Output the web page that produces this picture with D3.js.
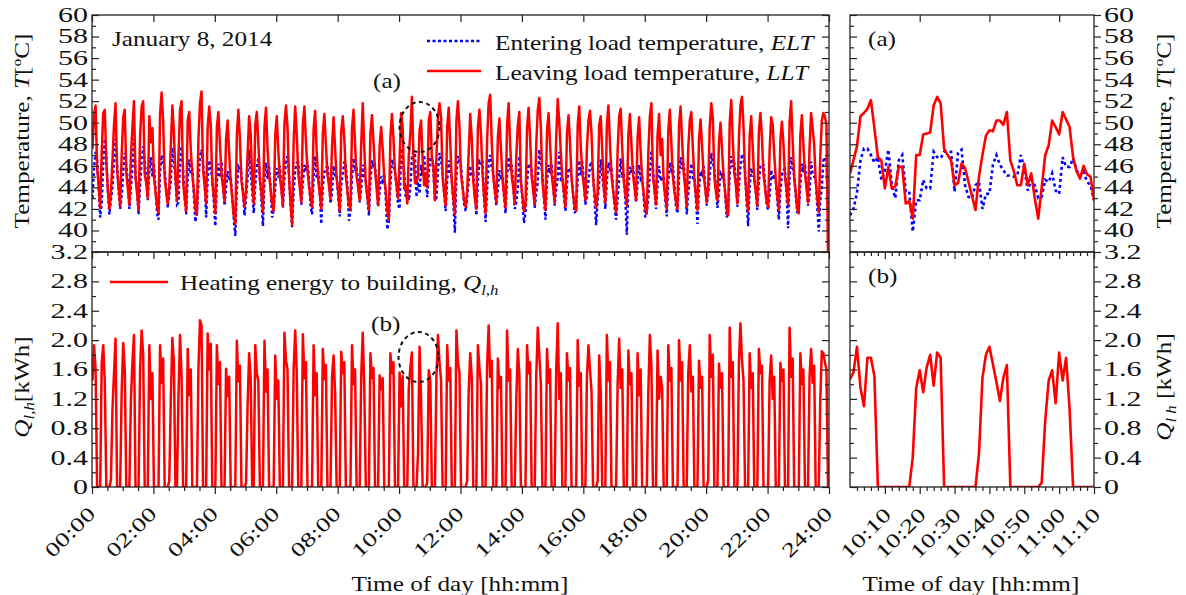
<!DOCTYPE html>
<html>
<head>
<meta charset="utf-8">
<script src="https://cdn.jsdelivr.net/npm/d3@7"></script>
<style>
  body { margin: 0; background: #fff; }
  svg { display: block; }
  text { font-family: "Liberation Serif", "Times New Roman", serif; fill: #111; }
</style>
</head>
<body>
<svg id="chart" width="1186" height="595"></svg>
<script>
// ---- Full day record: 3-minute samples, first at 00:01 ----
const dayFirstMinute = 1;
const daySampleStep = 3;

// Heating energy to building, Q_l,h [kWh]
const dayQ = [
  1.45,1.93,1.60,0,0,0, 1.70,1.93,1.42,0,0,0, 0.10,1.05,1.55,2.02,0,0,0, 1.30,1.96,1.60,0,0,0,
  1.18,1.70,2.07,0,0,0, 1.62,2.13,1.80,0,0,0, 1.93,1.20,1.55,0,0,0,0, 1.93,1.42,1.75,0,0,0,
  0.08,1.20,2.03,1.70,0,0, 1.25,2.07,1.50,0,0,0, 1.88,1.25,1.60,0,0,0,0, 1.62,2.27,2.20,0,0,0,
  2.09,1.60,1.95,0,0,0, 1.93,1.40,1.70,0,0,0, 1.61,1.24,1.50,0,0,0,0, 1.99,1.44,1.65,0,0,0,
  0.05,1.10,1.82,1.50,0,0, 1.93,1.55,1.45,0,0,0, 1.99,1.30,1.60,0,0,0,0, 1.79,1.20,1.45,0,0,0,
  2.10,1.72,1.60,0,0,0, 1.60,2.13,1.58,0,0,0, 2.08,1.48,1.70,0,0,0,0, 1.93,1.25,1.55,0,0,0,
  1.88,1.47,1.66,0,0,0, 1.50,1.79,1.28,0,0,0, 1.84,1.55,1.70,0,0,0,0, 1.93,1.40,1.60,0,0,0,
  1.50,2.10,1.35,0,0,0, 1.82,1.48,1.62,0,0,0, 1.52,1.33,1.48,0,0,0,0, 1.82,1.55,1.70,0,0,0,
  1.56,1.10,1.51,0,0,0, 1.35,1.63,1.83,0,0,0, 0.45,1.91,1.17,0,0,0, 0.06,1.59,1.45,0,0,0,
  1.50,2.07,1.70,1.45,0,0,0, 1.93,1.45,1.62,0,0,0, 2.13,1.70,1.55,0,0,0,0, 0.08,1.30,1.82,1.50,0,0,0,
  1.93,1.62,1.40,0,0,0, 1.65,2.20,1.50,1.72,0,0,0, 1.75,1.35,1.50,0,0,0, 2.13,1.45,1.60,0,0,0,
  1.20,1.88,1.52,0,0,0,0, 1.93,1.55,1.70,0,0,0, 1.50,2.17,1.80,1.40,0,0,0, 1.88,1.42,1.60,0,0,0,
  1.60,2.23,1.20,1.55,0,0,0, 1.82,1.45,1.62,0,0,0,0, 2.00,1.38,1.55,0,0,0, 1.50,1.93,1.60,1.30,0,0,0,
  0.08,1.79,1.30,0,0,0, 2.07,1.45,1.70,0,0,0,0, 1.40,2.02,1.35,1.60,0,0,0, 1.86,1.40,1.55,0,0,0,
  1.82,1.25,1.60,0,0,0,0, 1.30,2.07,1.65,0,0,0, 1.86,1.20,1.50,1.35,0,0,0, 1.93,1.45,1.62,0,0,0,0,
  2.00,1.45,1.70,0,0,0, 1.55,1.93,1.30,1.50,0,0,0, 1.72,1.35,1.50,0,0,0, 0.10,2.07,1.50,1.80,0,0,0,
  1.68,1.35,1.55,0,0,0,0, 2.17,1.50,1.70,0,0,0, 1.70,2.23,1.72,1.45,0,0,0, 1.82,1.35,1.55,0,0,0,
  1.88,1.55,1.65,0,0,0,0, 1.45,1.79,1.20,1.50,0,0,0, 1.69,1.45,1.60,0,0,0, 2.17,1.50,1.75,0,0,0,0,
  1.82,1.40,1.60,0,0,0, 1.50,1.88,1.42,1.65,0,0,0, 1.20,1.85,1.82,1.70,1.60,0
];

// Leaving load temperature, LLT [°C]
const dayLLT = [
  47.6,50.8,51.6,45.8,44.2,42.1, 47.2,50.9,51.2,46.3,43.8,42.0, 43.5,46.5,49.8,51.8,45.6,44.0,42.3, 47.0,50.5,51.2,45.4,43.9,42.4,
  46.8,49.6,52.0,44.9,43.5,41.9, 48.8,51.5,52.0,45.2,44.4,43.0, 50.6,48.2,49.5,45.0,43.6,42.3,41.6, 50.8,52.8,50.2,44.9,43.6,42.5,
  44.0,47.8,51.6,49.2,45.0,42.8, 47.0,51.2,52.0,44.5,43.0,41.8, 50.2,51.0,47.5,45.2,43.8,42.0,41.5, 48.5,51.8,52.9,45.6,44.2,42.5,
  49.5,51.5,49.8,44.5,43.2,41.6, 49.6,51.0,48.0,45.2,44.0,42.7, 48.5,50.2,47.2,44.6,43.0,41.4,40.6, 48.8,51.2,48.5,44.6,43.5,42.2,
  43.8,47.0,50.6,49.0,44.5,42.5, 49.8,51.0,48.2,44.7,43.5,41.7, 49.6,51.4,47.6,45.2,43.8,42.4,41.8, 48.8,50.6,47.4,45.0,43.8,42.3,
  49.9,51.6,49.5,44.8,42.5,40.5, 48.2,51.5,48.9,45.3,44.0,42.6, 49.9,51.5,48.2,45.6,44.1,43.0,42.2, 49.4,51.1,47.3,44.7,43.4,42.0,
  49.0,50.8,48.0,45.2,44.2,42.9, 47.8,50.5,47.6,44.8,43.6,41.8, 49.2,50.6,48.5,45.0,43.6,42.4,41.9, 49.5,51.2,47.9,45.0,44.0,42.8,
  48.0,51.8,47.6,44.3,43.2,41.9, 49.0,50.7,48.2,45.6,44.0,42.4, 47.8,49.6,47.5,45.0,43.6,41.8,41.0, 48.6,50.8,48.6,45.4,44.2,43.0,
  46.5,50.9,49.5,43.9,44.1,42.5, 47.0,49.0,52.4,47.0,44.4,44.5, 45.0,49.3,50.2,46.5,44.2,45.3, 44.0,50.2,51.0,46.8,46.0,42.8,
  46.8,50.6,51.8,50.5,45.0,43.5,42.3, 49.6,51.4,48.1,44.5,43.0,41.5, 50.2,52.0,49.6,45.2,44.0,42.8,42.2, 43.6,47.2,50.8,48.5,44.6,43.0,42.0,
  49.5,51.2,49.0,45.3,43.2,41.6, 48.4,51.8,52.6,48.3,45.0,43.8,42.6, 48.6,50.4,47.6,44.8,43.4,42.1, 49.8,51.8,48.0,45.1,44.0,42.5,
  46.8,49.8,51.0,44.5,43.2,41.8,42.3, 49.4,51.4,48.6,45.0,43.8,42.4, 48.0,51.2,52.3,49.5,44.6,43.2,41.9, 49.2,50.9,48.0,45.2,44.0,42.6,
  48.6,52.2,50.0,47.2,44.8,43.6,42.2, 49.0,50.7,48.2,44.8,43.4,42.2,41.8, 49.8,51.5,47.8,45.3,44.2,42.8, 47.6,50.2,51.1,49.0,44.9,43.4,42.1,
  43.6,49.8,50.6,47.4,44.0,42.6, 49.8,51.6,48.1,45.1,43.8,42.6,41.7, 47.4,50.6,51.3,47.6,44.6,43.4,42.3, 48.9,50.8,47.9,45.2,44.0,42.8,
  48.6,50.5,47.3,44.7,43.4,42.0,41.6, 47.2,50.6,51.8,45.1,43.8,42.4, 48.8,50.8,47.0,48.5,44.4,43.2,42.0, 49.2,51.2,48.1,45.0,43.6,42.7,42.0,
  49.8,51.5,48.3,45.4,44.0,42.2, 47.6,50.2,51.0,47.6,44.7,43.2,41.9, 48.4,50.3,47.8,45.2,44.0,42.6, 44.1,49.6,51.8,50.4,45.0,43.6,42.8,
  48.2,50.0,47.6,44.9,43.6,42.0,41.4, 50.0,52.1,48.4,45.3,44.2,42.5, 48.6,51.6,52.4,49.6,45.0,43.2,41.8, 48.8,50.6,47.7,44.6,43.6,42.3,
  49.2,50.9,48.6,45.2,44.0,42.7,42.2, 47.4,50.5,49.8,47.1,44.7,43.2,41.9, 48.4,50.1,48.0,45.0,43.8,42.4, 50.0,52.0,48.3,44.8,43.6,42.0,41.6,
  48.8,50.7,47.9,45.3,44.0,42.6, 47.6,50.9,49.5,48.0,44.6,43.0,41.7, 46.9,50.2,50.9,50.6,49.8,38.0
];

// Entering load temperature, ELT [°C]
const dayELT = [
  43.0,45.8,47.3,46.5,44.0,41.2, 42.5,46.2,48.5,46.8,43.5,41.5, 42.8,44.0,46.5,48.5,46.2,43.6,42.0, 43.2,45.5,47.2,46.1,44.6,42.0,
  44.0,45.8,48.5,45.2,43.8,41.5, 44.2,46.5,47.8,46.5,44.9,42.8, 45.6,46.8,45.0,46.2,44.0,41.6,41.0, 45.4,47.0,46.2,45.6,43.8,42.1,
  43.4,44.6,47.7,46.5,44.8,42.4, 42.6,46.5,47.8,45.8,43.2,41.5, 44.8,46.6,45.2,45.8,43.2,40.8,41.6, 44.5,46.9,47.5,46.3,44.8,41.2,
  44.8,46.5,45.8,44.8,42.6,40.4, 44.5,46.2,44.9,46.4,44.2,42.3, 44.0,45.5,44.6,45.0,43.2,41.0,39.5, 43.8,45.9,45.6,45.3,43.5,41.4,
  43.0,44.8,47.5,45.4,43.6,41.6, 44.2,46.0,46.7,45.1,42.8,40.4, 44.6,46.3,44.8,46.0,44.0,41.2,42.0, 43.9,45.8,44.9,46.0,44.1,42.1,
  44.8,46.4,46.9,45.2,42.4,40.3, 43.6,45.6,46.3,46.3,44.6,42.4, 44.4,46.1,45.5,46.4,44.8,42.3,41.5, 44.9,46.9,44.8,45.5,43.5,40.6,
  44.0,45.4,45.7,46.1,44.6,42.5, 43.5,46.0,45.0,45.1,43.2,41.3, 44.2,45.2,46.4,46.0,44.2,40.9,41.8, 44.8,46.7,45.5,45.9,44.5,42.6,
  43.9,46.1,45.0,44.6,43.0,41.4, 44.6,46.5,45.8,46.0,44.3,42.2, 43.6,45.0,44.6,45.3,43.0,40.1,40.8, 44.2,46.6,46.0,45.5,44.0,42.4,
  42.0,47.6,46.3,45.5,43.0,43.6, 42.8,43.9,46.8,47.3,47.2,43.1, 44.5,43.4,46.1,45.1,47.0,44.7, 43.1,45.3,46.8,46.7,45.5,42.8,
  43.0,45.5,47.2,46.5,45.3,43.5,41.8, 44.6,46.5,45.4,44.8,42.5,39.8, 45.0,46.9,46.4,46.0,44.2,42.5,41.8, 43.0,44.6,46.0,45.0,45.2,43.4,41.4,
  44.5,46.4,46.2,46.3,43.0,40.8, 43.8,46.2,47.0,45.8,45.4,43.6,42.3, 43.8,45.6,44.9,45.0,43.2,41.6, 45.0,46.8,45.6,46.1,44.3,42.0,
  42.6,43.9,46.9,44.7,42.8,40.7,41.6, 44.4,46.2,46.0,45.6,43.9,42.1, 43.5,44.5,47.5,46.2,45.3,43.0,41.0, 44.6,46.1,45.3,46.2,44.4,42.3,
  43.8,44.9,47.3,44.8,45.0,43.2,41.8, 44.2,45.8,45.5,45.0,43.4,41.6,42.0, 44.8,46.5,45.1,46.4,44.6,42.4, 43.2,44.6,46.0,46.4,45.2,42.8,40.5,
  42.9,44.5,46.6,45.0,43.8,42.0, 44.6,46.3,45.7,45.9,44.0,42.2,41.0, 43.0,44.8,46.7,44.9,45.3,43.0,39.6, 44.0,45.9,45.3,46.0,44.5,42.6,
  44.4,46.1,44.8,45.1,43.0,41.2,41.8, 43.0,45.4,47.4,45.8,44.0,42.0, 44.2,46.0,44.6,44.9,45.0,43.0,41.3, 44.6,46.3,45.6,46.0,44.2,42.2,41.6,
  45.0,46.8,45.7,46.2,44.4,41.5, 43.4,45.0,46.2,44.9,45.0,42.8,40.6, 43.8,45.5,45.2,46.0,44.3,42.3, 43.5,45.0,47.2,46.3,45.6,44.0,42.1,
  43.6,45.3,45.0,45.4,43.5,41.2,41.8, 45.2,46.9,45.9,46.3,44.6,42.2, 44.0,46.0,47.1,46.6,45.5,42.6,40.4, 44.0,45.8,45.1,45.0,43.6,41.9,
  44.5,46.0,46.2,46.1,44.4,42.5,41.9, 43.2,45.6,44.7,45.2,44.6,42.8,41.0, 43.6,45.2,45.6,45.7,43.6,40.2, 45.0,46.8,45.8,45.1,43.2,41.6,42.0,
  44.2,46.2,45.4,46.2,44.5,42.3, 43.4,46.4,45.3,45.0,44.8,42.2,39.9, 42.8,44.0,46.5,46.8,46.4,42.0
];

// ---- Detail window 10:00 - 11:10, 1-minute samples ----
const zoomStart = 600; // minutes after midnight
const zoomLLT = [
  45.3,46.5,47.8,50.6,50.9,51.3,52.1,49.5,46.8,46.5,
  43.9,45.9,43.9,44.1,45.9,45.9,42.5,42.7,41.1,47.0,
  47.0,48.9,49.0,49.1,51.6,52.4,51.8,47.6,47.0,46.5,
  44.2,44.4,46.2,45.8,44.5,43.2,41.9,45.0,47.0,48.8,
  49.3,49.2,50.2,50.2,49.8,51.0,46.5,45.5,44.2,44.2,
  46.2,44.2,45.3,43.0,41.1,44.0,47.0,47.9,50.2,49.6,
  48.9,51.0,50.3,49.6,46.8,45.5,44.8,46.0,45.2,45.0,
  42.8
];
const zoomELT = [
  41.4,42.0,43.5,46.5,47.6,47.6,47.0,46.3,46.8,44.7,
  45.5,47.5,44.2,43.0,46.5,47.0,43.6,43.6,39.9,42.8,
  42.8,44.7,43.9,43.9,47.3,46.8,46.7,47.3,47.3,47.3,
  43.6,47.2,47.5,44.2,43.1,43.0,44.2,44.5,42.0,43.4,
  43.4,46.1,47.0,46.1,45.6,45.1,45.1,45.0,45.1,47.0,
  45.8,43.7,44.7,44.2,43.0,43.1,44.7,44.5,45.3,43.7,
  43.4,46.8,45.9,45.9,46.7,45.6,45.1,45.5,44.5,44.2,
  42.8
];
const zoomQ = [
  1.47,1.56,1.91,1.35,1.10,1.76,1.76,1.51,0,0,
  0,0,0,0,0,0,0,0,0.40,1.35,
  1.59,1.29,1.63,1.80,1.38,1.83,1.76,0,0,0,
  0,0,0,0,0,0,0,0.45,1.49,1.80,
  1.91,1.67,1.43,1.17,1.49,1.66,0,0,0,0,
  0,0,0,0,0,0.06,0.90,1.45,1.59,1.14,
  1.83,1.45,1.76,1.06,0,0,0,0,0,0,
  0
];

// ---- Axis ticks and labels ----
const dayTickMinutes = [0,120,240,360,480,600,720,840,960,1080,1200,1320,1440];
const dayTickLabels = ["00:00","02:00","04:00","06:00","08:00","10:00","12:00","14:00","16:00","18:00","20:00","22:00","24:00"];
const zoomTickMinutes = [610,620,630,640,650,660,670];
const zoomTickLabels = ["10:10","10:20","10:30","10:40","10:50","11:00","11:10"];
const tempTicks = [40,42,44,46,48,50,52,54,56,58,60];
const qTicks = [0,0.4,0.8,1.2,1.6,2.0,2.4,2.8,3.2];
const qTickLabels = ["0","0.4","0.8","1.2","1.6","2.0","2.4","2.8","3.2"];

if (dayQ.length !== dayLLT.length || dayQ.length !== dayELT.length)
  throw new Error(`day series lengths differ: Q ${dayQ.length}, LLT ${dayLLT.length}, ELT ${dayELT.length}`);
if (zoomQ.length !== zoomLLT.length || zoomQ.length !== zoomELT.length)
  throw new Error("detail series lengths differ");

// ---- Layout ----
const svg = d3.select("#chart");
const PL = { x0: 92, x1: 829 };   // full-day panels
const PR = { x0: 850, x1: 1094 };  // detail panels
const PT = { y0: 15, y1: 252 };    // temperature row
const PB = { y0: 252, y1: 487 };   // energy row
const INK = "#222";
const RED = "#ff0000";
const BLUE = "#0000ff";

const xDay = d3.scaleLinear().domain([0, 1440]).range([PL.x0, PL.x1]);
const xZoom = d3.scaleLinear().domain([600, 670]).range([PR.x0, PR.x1]);
const yT = d3.scaleLinear().domain([38, 60]).range([PT.y1, PT.y0]);
const yQ = d3.scaleLinear().domain([0, 3.2]).range([PB.y1, PB.y0]);

const dayT = dayQ.map((_, i) => dayFirstMinute + i * daySampleStep);
const zoomT = zoomQ.map((_, i) => zoomStart + i);

// stretch glyphs horizontally so lettering has the wide, loose look of the figure
function widen(sel, k) {
  sel.each(function () {
    const w = this.getComputedTextLength();
    if (w > 0) d3.select(this).attr("textLength", w * k).attr("lengthAdjust", "spacingAndGlyphs");
  });
}

// clip regions
const defs = svg.append("defs");
function clip(id, x0, x1, y0, y1) {
  defs.append("clipPath").attr("id", id).append("rect")
    .attr("x", x0).attr("y", y0).attr("width", x1 - x0).attr("height", y1 - y0);
  return `url(#${id})`;
}
const cLT = clip("cLT", PL.x0, PL.x1, PT.y0, PT.y1);
const cLB = clip("cLB", PL.x0, PL.x1, PB.y0, PB.y1);
const cRT = clip("cRT", PR.x0, PR.x1, PT.y0, PT.y1);
const cRB = clip("cRB", PR.x0, PR.x1, PB.y0, PB.y1);

function series(xs, ys, xScale, yScale) {
  return d3.line().x((d, i) => xScale(xs[i])).y(d => yScale(d))(ys);
}

// ---- Lines ----
svg.append("path").attr("clip-path", cLT).attr("d", series(dayT, dayELT, xDay, yT))
  .attr("fill", "none").attr("stroke", BLUE).attr("stroke-width", 2.4).attr("stroke-dasharray", "3,2.5");
svg.append("path").attr("clip-path", cLT).attr("d", series(dayT, dayLLT, xDay, yT))
  .attr("fill", "none").attr("stroke", RED).attr("stroke-width", 2.5).attr("stroke-linejoin", "round");
svg.append("path").attr("clip-path", cLB).attr("d", series(dayT, dayQ, xDay, yQ))
  .attr("fill", "none").attr("stroke", RED).attr("stroke-width", 2.5).attr("stroke-linejoin", "round");

svg.append("path").attr("clip-path", cRT).attr("d", series(zoomT, zoomELT, xZoom, yT))
  .attr("fill", "none").attr("stroke", BLUE).attr("stroke-width", 2.6).attr("stroke-dasharray", "3,3");
svg.append("path").attr("clip-path", cRT).attr("d", series(zoomT, zoomLLT, xZoom, yT))
  .attr("fill", "none").attr("stroke", RED).attr("stroke-width", 2.6).attr("stroke-linejoin", "round");
svg.append("path").attr("clip-path", cRB).attr("d", series(zoomT, zoomQ, xZoom, yQ))
  .attr("fill", "none").attr("stroke", RED).attr("stroke-width", 2.6).attr("stroke-linejoin", "round");

// ---- Frames ----
[[PL, PT], [PL, PB], [PR, PT], [PR, PB]].forEach(([px, py]) => {
  svg.append("rect").attr("x", px.x0).attr("y", py.y0)
    .attr("width", px.x1 - px.x0).attr("height", py.y1 - py.y0)
    .attr("fill", "none").attr("stroke", INK).attr("stroke-width", 1.3);
});

// ---- Axes ----
function axis(gen, tx, ty) {
  const g = svg.append("g").attr("transform", `translate(${tx},${ty})`).call(gen);
  g.select(".domain").remove();
  g.selectAll("line").attr("stroke", INK).attr("stroke-width", 1.2);
  g.attr("font-size", 20).attr("font-family", null);
  return g;
}
const none = () => "";
const tempMinor = d3.range(39, 60, 2);
const qMinor = [0.2,0.6,1.0,1.4,1.8,2.2,2.6,3.0];
const dayMinor = d3.range(0, 1441, 30).filter(m => m % 120 !== 0);
const zoomMinor = d3.range(602, 670, 2).filter(m => m % 10 !== 0);

// left panels, y axes
const gTL = axis(d3.axisLeft(yT).tickValues(tempTicks).tickSize(-7).tickPadding(4).tickFormat(d3.format("d")), PL.x0, 0);
axis(d3.axisLeft(yT).tickValues(tempMinor).tickSize(-4).tickFormat(none), PL.x0, 0);
axis(d3.axisRight(yT).tickValues(tempTicks).tickSize(-7).tickFormat(none), PL.x1, 0);
axis(d3.axisRight(yT).tickValues(tempMinor).tickSize(-4).tickFormat(none), PL.x1, 0);
const gBL = axis(d3.axisLeft(yQ).tickValues(qTicks).tickSize(-7).tickPadding(4).tickFormat((d, i) => qTickLabels[i]), PL.x0, 0);
axis(d3.axisLeft(yQ).tickValues(qMinor).tickSize(-4).tickFormat(none), PL.x0, 0);
axis(d3.axisRight(yQ).tickValues(qTicks).tickSize(-7).tickFormat(none), PL.x1, 0);
axis(d3.axisRight(yQ).tickValues(qMinor).tickSize(-4).tickFormat(none), PL.x1, 0);

// left panels, x axes
axis(d3.axisTop(xDay).tickValues(dayTickMinutes).tickSize(-7).tickFormat(none), 0, PT.y0);
axis(d3.axisBottom(xDay).tickValues(dayTickMinutes).tickSize(7).tickFormat(none), 0, PB.y0);
axis(d3.axisBottom(xDay).tickValues(dayMinor).tickSize(4).tickFormat(none), 0, PB.y0);
const gDayX = axis(d3.axisBottom(xDay).tickValues(dayTickMinutes).tickSize(7).tickFormat((d, i) => dayTickLabels[i]), 0, PB.y1);
axis(d3.axisBottom(xDay).tickValues(dayMinor).tickSize(4).tickFormat(none), 0, PB.y1);

// detail panels, y axes
axis(d3.axisLeft(yT).tickValues(tempTicks).tickSize(-7).tickFormat(none), PR.x0, 0);
axis(d3.axisLeft(yT).tickValues(tempMinor).tickSize(-4).tickFormat(none), PR.x0, 0);
const gTR = axis(d3.axisRight(yT).tickValues(tempTicks).tickSize(7).tickPadding(3).tickFormat(d3.format("d")), PR.x1, 0);
axis(d3.axisRight(yT).tickValues(tempMinor).tickSize(4).tickFormat(none), PR.x1, 0);
axis(d3.axisLeft(yQ).tickValues(qTicks).tickSize(-7).tickFormat(none), PR.x0, 0);
axis(d3.axisLeft(yQ).tickValues(qMinor).tickSize(-4).tickFormat(none), PR.x0, 0);
const gBR = axis(d3.axisRight(yQ).tickValues(qTicks).tickSize(7).tickPadding(3).tickFormat((d, i) => qTickLabels[i]), PR.x1, 0);
axis(d3.axisRight(yQ).tickValues(qMinor).tickSize(4).tickFormat(none), PR.x1, 0);

// detail panels, x axes
axis(d3.axisTop(xZoom).tickValues([620, 640, 660]).tickSize(-7).tickFormat(none), 0, PT.y0);
axis(d3.axisBottom(xZoom).tickValues(zoomTickMinutes).tickSize(7).tickFormat(none), 0, PB.y0);
axis(d3.axisBottom(xZoom).tickValues(zoomMinor).tickSize(4).tickFormat(none), 0, PB.y0);
const gZoomX = axis(d3.axisBottom(xZoom).tickValues(zoomTickMinutes).tickSize(7).tickFormat((d, i) => zoomTickLabels[i]), 0, PB.y1);
axis(d3.axisBottom(xZoom).tickValues(zoomMinor).tickSize(4).tickFormat(none), 0, PB.y1);

// tick label styling
[gTL, gBL, gTR, gBR].forEach(g => { g.selectAll("text").attr("fill", "#111"); widen(g.selectAll("text"), 1.5); });
gDayX.selectAll("text").attr("x", 0).attr("y", 0).attr("dy", 0).attr("text-anchor", "end")
  .attr("transform", "translate(4,28) rotate(-45)").attr("fill", "#111");
gZoomX.selectAll("text").attr("x", 0).attr("y", 0).attr("dy", 0).attr("text-anchor", "end")
  .attr("transform", "translate(7,29) rotate(-45)").attr("fill", "#111");
widen(gDayX.selectAll("text"), 1.36);
widen(gZoomX.selectAll("text"), 1.36);

// ---- Axis titles ----
const FS = 21, TK = 1.2;
function tempTitle(x, y) {
  const t = svg.append("text").attr("transform", `translate(${x},${y}) rotate(-90)`)
    .attr("text-anchor", "middle").attr("font-size", FS);
  t.append("tspan").text("Temperature, ");
  t.append("tspan").attr("font-style", "italic").text("T");
  t.append("tspan").text("[");
  t.append("tspan").attr("font-size", 13).attr("dy", -8).text("o");
  t.append("tspan").attr("dy", 8).text("C]");
  widen(t, TK);
}
function qTitle(x, y, sub, gap) {
  const t = svg.append("text").attr("transform", `translate(${x},${y}) rotate(-90)`)
    .attr("text-anchor", "middle").attr("font-size", FS);
  t.append("tspan").attr("font-style", "italic").text("Q");
  t.append("tspan").attr("font-style", "italic").attr("font-size", 14).attr("dy", 5).text(sub);
  t.append("tspan").attr("dy", -5).text(gap + "[kWh]");
  widen(t, TK);
}
tempTitle(29, 131);
tempTitle(1171, 131);
qTitle(29, 387, "l,h", "");
qTitle(1171, 387, "l h", " ");

function plain(x, y, str, anchor) {
  const t = svg.append("text").attr("x", x).attr("y", y).attr("font-size", FS)
    .attr("text-anchor", anchor || "start").text(str);
  widen(t, TK);
  return t;
}
plain(460, 591, "Time of day [hh:mm]", "middle");
plain(971, 591, "Time of day [hh:mm]", "middle");
plain(112, 46, "January 8, 2014");
plain(373, 88, "(a)");
plain(371, 331, "(b)");
plain(868, 46, "(a)");
plain(868, 283, "(b)");

// ---- Legends ----
svg.append("line").attr("x1", 427).attr("x2", 481).attr("y1", 41).attr("y2", 41)
  .attr("stroke", BLUE).attr("stroke-width", 2.4).attr("stroke-dasharray", "3,2.5");
svg.append("line").attr("x1", 427).attr("x2", 481).attr("y1", 71).attr("y2", 71)
  .attr("stroke", RED).attr("stroke-width", 2.6);
svg.append("line").attr("x1", 110).attr("x2", 168).attr("y1", 282).attr("y2", 282)
  .attr("stroke", RED).attr("stroke-width", 2.6);

function legendText(x, y, lead, it, sub) {
  const t = svg.append("text").attr("x", x).attr("y", y).attr("font-size", FS);
  t.append("tspan").text(lead);
  t.append("tspan").attr("font-style", "italic").text(it);
  if (sub) t.append("tspan").attr("font-style", "italic").attr("font-size", 14).attr("dy", 5).text(sub);
  widen(t, TK);
}
legendText(495, 50, "Entering load temperature, ", "ELT");
legendText(495, 80, "Leaving load temperature, ", "LLT");
legendText(180, 290, "Heating energy to building, ", "Q", "l,h");

// ---- Highlight of the detail window ----
svg.append("ellipse").attr("cx", xDay(640)).attr("cy", yT(49.6)).attr("rx", 20).attr("ry", 25)
  .attr("fill", "none").attr("stroke", "#111").attr("stroke-width", 2).attr("stroke-dasharray", "4,3.5");
svg.append("ellipse").attr("cx", xDay(638)).attr("cy", yQ(1.77)).attr("rx", 20).attr("ry", 25)
  .attr("fill", "none").attr("stroke", "#111").attr("stroke-width", 2).attr("stroke-dasharray", "4,3.5");
</script>
</body>
</html>
